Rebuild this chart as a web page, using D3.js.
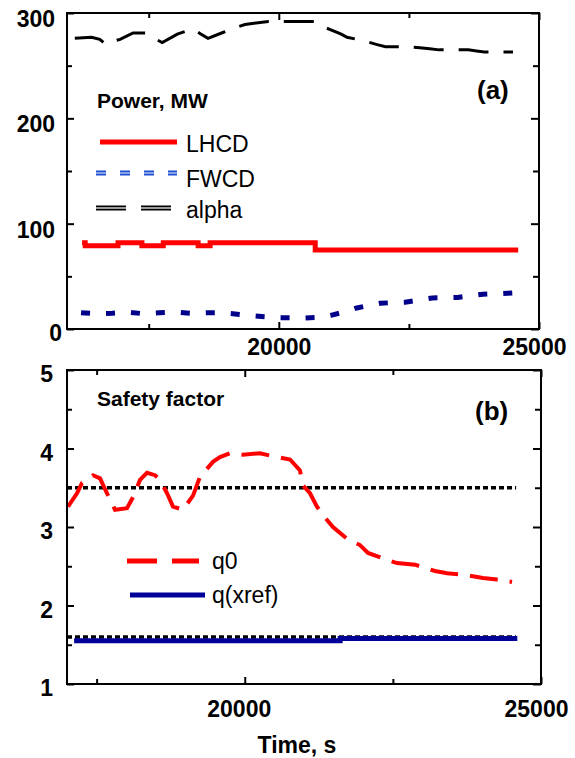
<!DOCTYPE html>
<html>
<head>
<meta charset="utf-8">
<script src="https://cdn.jsdelivr.net/npm/d3@7"></script>
<style>
  body { margin: 0; background: #fff; }
  text { font-family: "Liberation Sans", Arial, sans-serif; }
</style>
</head>
<body>
<script>
////// data

// panel (a): power, MW
const lhcd_t = [16220, 16280, 16910, 17370, 17780, 18450, 18680, 20700, 24600];
const lhcd_v = [82, 79, 82, 79, 82, 79, 82, 75, 75];

const fwcd_t = [16200, 16500, 16800, 17100, 17400, 17700, 18000, 18300, 18600, 18900, 19200, 19500, 19800, 20000, 20500, 20800, 21000, 21250, 21500, 21950, 22430, 22950, 23440, 23920, 24400, 24600];
const fwcd_v = [15.5, 14.5, 15, 16, 14.5, 15.5, 16, 15, 15.5, 15.5, 14, 12.5, 11.5, 10.7, 10.5, 11, 13, 16, 20, 24.5, 25.5, 29.5, 30, 33, 34, 34.5];

const alpha_t = [16080, 16400, 16560, 16680, 16800, 16950, 17200, 17470, 17600, 17760, 18050, 18350, 18500, 18640, 18900, 19220, 19350, 19490, 19800, 20120, 20400, 20700, 20850, 21000, 21200, 21310, 21600, 21890, 22050, 22400, 22710, 22900, 23080, 23350, 23640, 23800, 23950, 24250, 24500];
const alpha_v = [276, 277, 275, 270, 273, 275, 281, 281, 276, 272, 280, 285, 280, 276, 281, 287, 289, 290, 292, 292, 292, 292, 287, 284, 280, 277, 274, 270, 268, 268, 267, 266, 265, 265, 265, 264, 263, 263, 263];

// panel (b): safety factor
const q0_t = [17017, 17169, 17253, 17439, 17557, 17675, 17810, 18013, 18114, 18232, 18350, 18485, 18570, 18688, 18789, 18958, 19127, 19245, 19464, 19582, 19751, 19970, 20257, 20544, 20764, 20932, 20983, 21101, 21219, 21321, 21489, 21743, 21945, 22080, 22401, 22570, 22873, 23211, 23414, 23717, 24021, 24257, 24511];
const q0_v = [3.26, 3.43, 3.56, 3.66, 3.62, 3.43, 3.22, 3.24, 3.38, 3.6, 3.69, 3.66, 3.6, 3.43, 3.26, 3.22, 3.4, 3.64, 3.83, 3.89, 3.94, 3.92, 3.94, 3.89, 3.86, 3.72, 3.53, 3.43, 3.26, 3.15, 3.0, 2.84, 2.77, 2.67, 2.58, 2.54, 2.52, 2.44, 2.41, 2.39, 2.35, 2.33, 2.30];

const qref_t = [17120, 21610, 21610, 24600];
const qref_v = [1.55, 1.55, 1.58, 1.58];

const qlevels = [3.5, 1.6];
const qlevel_t = [17000, 24580];

const xticks_major = [20000, 25000];
const xticks_minor = [17500, 22500];
const ya_major = [0, 100, 200, 300];
const ya_minor = [50, 150, 250];
const yb_major = [1, 2, 3, 4, 5];
const yb_minor = [1.5, 2.5, 3.5, 4.5];

//////

const W = 575, H = 758;
const svg = d3.select("body").append("svg")
    .attr("width", W)
    .attr("height", H);

function zip(t, v) {
    return t.map((d, i) => ({t: d, v: v[i]}));
}

// draws the frame + inward ticks on all four sides
function frame(g, x, y, opt) {
    const [x0, x1] = x.range();
    const [y0, y1] = y.range();
    const bottom = g.append("g").attr("transform", `translate(0,${y0})`)
        .call(d3.axisBottom(x).tickValues(xticks_major).tickSize(-7).tickFormat(d3.format("d")));
    bottom.selectAll("text")
        .attr("dy", null)
        .attr("y", opt.xlabelY)
        .attr("dx", d => d == 25000 ? -5 : opt.xlabelDx)
        .style("font-size", "23px").style("font-weight", "bold");
    g.append("g").attr("transform", `translate(0,${y0})`)
        .call(d3.axisBottom(x).tickValues(xticks_minor).tickSize(-5).tickFormat(""));
    g.append("g").attr("transform", `translate(0,${y1})`)
        .call(d3.axisTop(x).tickValues(xticks_major).tickSize(-7).tickFormat(""));
    g.append("g").attr("transform", `translate(0,${y1})`)
        .call(d3.axisTop(x).tickValues(xticks_minor).tickSize(-5).tickFormat(""));

    const left = g.append("g").attr("transform", `translate(${x0},0)`)
        .call(d3.axisLeft(y).tickValues(opt.ymajor).tickSize(-7).tickPadding(12).tickFormat(d3.format("d")));
    left.selectAll("text")
        .attr("dy", d => opt.ylabelDy(d))
        .attr("x", d => opt.ylabelX(d))
        .style("font-size", "23px").style("font-weight", "bold");
    g.append("g").attr("transform", `translate(${x0},0)`)
        .call(d3.axisLeft(y).tickValues(opt.yminor).tickSize(-5).tickFormat(""));
    g.append("g").attr("transform", `translate(${x1},0)`)
        .call(d3.axisRight(y).tickValues(opt.ymajor).tickSize(-8).tickFormat(""));
    g.append("g").attr("transform", `translate(${x1},0)`)
        .call(d3.axisRight(y).tickValues(opt.yminor).tickSize(-6).tickFormat(""));

    g.selectAll(".domain").remove();
    g.selectAll(".tick line").attr("stroke", "#000").attr("stroke-width", 2);
    g.selectAll(".tick text").attr("fill", "#000");

    g.append("rect")
        .attr("x", x0).attr("y", y1)
        .attr("width", x1 - x0).attr("height", y0 - y1)
        .attr("fill", "none").attr("stroke", "#000").attr("stroke-width", 2);
}

function legendLine(g, x1, x2, yy, styles) {
    styles.forEach(s => {
        g.append("line")
            .attr("x1", x1).attr("x2", x2).attr("y1", yy).attr("y2", yy)
            .attr("stroke", s.color).attr("stroke-width", s.width)
            .attr("stroke-dasharray", s.dash || null);
    });
}

function label(g, x, y, txt, size, bold, anchor) {
    g.append("text")
        .attr("x", x).attr("y", y)
        .attr("text-anchor", anchor || "start")
        .style("font-size", size + "px")
        .style("font-weight", bold ? "bold" : "normal")
        .text(txt);
}

////// panel (a)

const xa = d3.scaleLinear().domain([15930, 25000]).range([67, 539]);
const ya = d3.scaleLinear().domain([0, 300]).range([329, 13]);
const ga = svg.append("g");

const lineA = d3.line().x(d => xa(d.t)).y(d => ya(d.v));

ga.append("path")
    .attr("d", lineA.curve(d3.curveStepAfter)(zip(lhcd_t, lhcd_v)))
    .attr("fill", "none").attr("stroke", "#ff0000").attr("stroke-width", 5);
lineA.curve(d3.curveLinear);

ga.append("path")
    .attr("d", lineA(zip(fwcd_t, fwcd_v)))
    .attr("fill", "none").attr("stroke", "#00008b").attr("stroke-width", 5)
    .attr("stroke-dasharray", "9,16");

ga.append("path")
    .attr("d", lineA(zip(alpha_t, alpha_v)))
    .attr("fill", "none").attr("stroke", "#000").attr("stroke-width", 3)
    .attr("stroke-dasharray", "30,15");

frame(ga, xa, ya, {
    ymajor: ya_major, yminor: ya_minor,
    xlabelY: 26, xlabelDx: 0,
    ylabelDy: d => d == 0 ? "11px" : "13.5px",
    ylabelX: d => d == 0 ? -5 : -12
});

label(ga, 97, 108, "Power, MW", 21, true);
label(ga, 477, 99, "(a)", 26, true);

legendLine(ga, 100, 177, 142, [{color: "#ff0000", width: 5}]);
label(ga, 186, 152, "LHCD", 23, false);
legendLine(ga, 96, 177, 173, [{color: "#1f4fd0", width: 5, dash: "10,14"}, {color: "#a8c0f4", width: 1.5, dash: "10,14"}]);
label(ga, 186, 187, "FWCD", 23, false);
legendLine(ga, 96, 172, 208, [{color: "#000", width: 5, dash: "30,15"}, {color: "#d0d0d0", width: 1.5, dash: "30,15"}]);
label(ga, 186, 218, "alpha", 23, false);

////// panel (b)

const xb = d3.scaleLinear().domain([17000, 25000]).range([67, 541]);
const yb = d3.scaleLinear().domain([1, 5]).range([684, 370]);
const gb = svg.append("g");

const lineB = d3.line().x(d => xb(d.t)).y(d => yb(d.v));

qlevels.forEach(q => {
    gb.append("path")
        .attr("d", lineB(qlevel_t.map(t => ({t: t, v: q}))))
        .attr("fill", "none").attr("stroke", "#000").attr("stroke-width", 3.5)
        .attr("stroke-dasharray", "5,3");
});

gb.append("path")
    .attr("d", lineB(zip(qref_t, qref_v)))
    .attr("fill", "none").attr("stroke", "#000099").attr("stroke-width", 5);

gb.append("path")
    .attr("d", lineB(zip(q0_t, q0_v)))
    .attr("fill", "none").attr("stroke", "#ff0000").attr("stroke-width", 4)
    .attr("stroke-dasharray", "28,12");

frame(gb, xb, yb, {
    ymajor: yb_major, yminor: yb_minor,
    xlabelY: 33, xlabelDx: -6,
    ylabelDy: d => "11.5px",
    ylabelX: d => -14
});

label(gb, 97, 406, "Safety factor", 21, true);
label(gb, 475, 420, "(b)", 26, true);

legendLine(gb, 127, 199, 561, [{color: "#ff0000", width: 5, dash: "30,15"}]);
label(gb, 212, 569, "q0", 23, false);
legendLine(gb, 130, 205, 595, [{color: "#000099", width: 5}]);
label(gb, 212, 603, "q(xref)", 23, false);

label(svg, 297, 753, "Time, s", 23, true, "middle");
</script>
</body>
</html>
